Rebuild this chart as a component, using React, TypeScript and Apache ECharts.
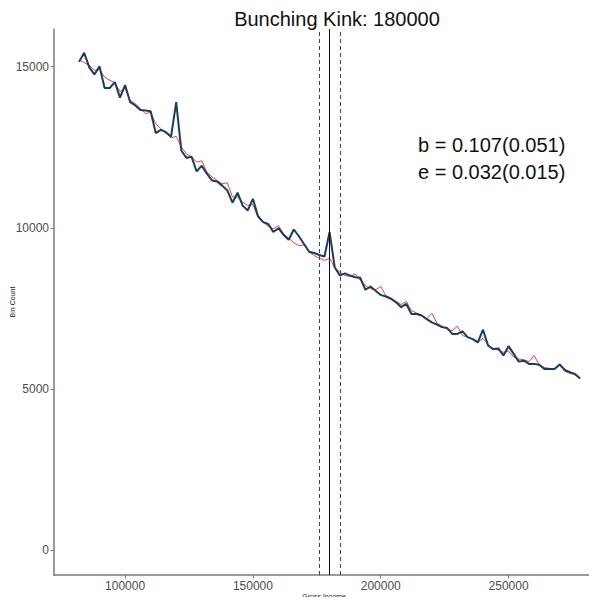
import React, { useEffect, useRef } from "react";
import * as echarts from "echarts";

const incomeBins = [
  82000, 84000, 86000, 88000, 90000, 92000, 94000, 96000, 98000, 100000,
  102000, 104000, 106000, 108000, 110000, 112000, 114000, 116000, 118000, 120000,
  122000, 124000, 126000, 128000, 130000, 132000, 134000, 136000, 138000, 140000,
  142000, 144000, 146000, 148000, 150000, 152000, 154000, 156000, 158000, 160000,
  162000, 164000, 166000, 168000, 170000, 172000, 174000, 176000, 178000, 180000,
  182000, 184000, 186000, 188000, 190000, 192000, 194000, 196000, 198000, 200000,
  202000, 204000, 206000, 208000, 210000, 212000, 214000, 216000, 218000, 220000,
  222000, 224000, 226000, 228000, 230000, 232000, 234000, 236000, 238000, 240000,
  242000, 244000, 246000, 248000, 250000, 252000, 254000, 256000, 258000, 260000,
  262000, 264000, 266000, 268000, 270000, 272000, 274000, 276000, 278000,
];

const observedCounts = [
  15150, 15430, 14980, 14760, 15010, 14340, 14340, 14520, 14040, 14430,
  13900, 13800, 13660, 13640, 13620, 12940, 13040, 12970, 12830, 13900,
  12400, 12170, 12210, 11750, 11930, 11680, 11470, 11440, 11310, 11160,
  10780, 11090, 10690, 10540, 10900, 10360, 10180, 10120, 9870, 9990,
  9780, 9630, 9950, 9740, 9500, 9260, 9220, 9160, 9110, 9870,
  8780, 8520, 8590, 8520, 8470, 8450, 8080, 8180, 8050, 7920,
  7870, 7800, 7690, 7540, 7640, 7330, 7330, 7280, 7170, 7070,
  7000, 6920, 6890, 6710, 6710, 6790, 6610, 6550, 6450, 6840,
  6350, 6240, 6260, 6040, 6330, 6090, 5850, 5880, 5780, 5780,
  5750, 5620, 5620, 5620, 5760, 5590, 5520, 5470, 5330,
];

const fittedCounts = [
  15220, 15130, 15040, 14890, 14910, 14680, 14580, 14500, 14230, 14330,
  13960, 13850, 13700, 13540, 13590, 13230, 13080, 12940, 12790, 12840,
  12510, 12300, 12200, 12040, 12080, 11730, 11580, 11470, 11370, 11400,
  10960, 10950, 10800, 10690, 10720, 10330, 10180, 10050, 9970, 10070,
  9820, 9680, 9540, 9450, 9470, 9250, 9140, 9060, 8990, 9060,
  8760, 8630, 8520, 8490, 8570, 8370, 8210, 8110, 8080, 8180,
  7900, 7820, 7720, 7620, 7720, 7430, 7360, 7300, 7180, 7350,
  7040, 6950, 6860, 6810, 6950, 6660, 6610, 6550, 6450, 6580,
  6370, 6240, 6210, 6140, 6180, 5990, 5930, 5910, 5850, 6040,
  5750, 5670, 5640, 5620, 5780, 5550, 5490, 5440, 5330,
];

const xTicks = [100000, 150000, 200000, 250000];
const yTicks = [0, 5000, 10000, 15000];
const kink = 180000;
const windowLines = [176000, 184000];
const titleText = "Bunching Kink: 180000";
const annotationLines = ["b = 0.107(0.051)", "e = 0.032(0.015)"];
const xAxisTitle = "Gross Income";
const yAxisTitle = "Bin Count";

export default function App() {
  const ref = useRef<HTMLDivElement>(null);

  useEffect(() => {
    if (!ref.current) return;
    const chart = echarts.init(ref.current, undefined, { renderer: "svg" });
    const font = "Liberation Sans, Arial, sans-serif";
    const axisColor = "#7a7a7a";
    const labelColor = "#4d4d4d";

    const option: any = {
      animation: false,
      backgroundColor: "#ffffff",
      grid: {
        left: 54,
        right: 0,
        top: 29,
        bottom: 30,
        containLabel: false,
        outerBoundsMode: "none",
      },
      xAxis: {
        type: "value",
        min: 72200,
        max: 284600,
        axisLine: { show: true, onZero: false, lineStyle: { color: axisColor, width: 1.5 } },
        axisTick: { show: true, length: 3.5, customValues: xTicks, lineStyle: { color: axisColor } },
        axisLabel: {
          customValues: xTicks,
          fontSize: 12,
          color: labelColor,
          fontFamily: font,
          margin: 5,
          formatter: (v: number) => (xTicks.includes(v) ? String(v) : ""),
        },
        splitLine: { show: false },
      },
      yAxis: {
        type: "value",
        min: -770,
        max: 16170,
        axisLine: { show: true, onZero: false, lineStyle: { color: axisColor, width: 1.5 } },
        axisTick: { show: true, length: 3.5, customValues: yTicks, lineStyle: { color: axisColor } },
        axisLabel: {
          customValues: yTicks,
          fontSize: 12,
          color: labelColor,
          fontFamily: font,
          margin: 5,
          formatter: (v: number) => (yTicks.includes(v) ? String(v) : ""),
        },
        splitLine: { show: false },
      },
      series: [
        {
          type: "line",
          name: "fitted",
          data: incomeBins.map((x, i) => [x, fittedCounts[i]]),
          symbol: "none",
          lineStyle: { color: "#e8413c", width: 1 },
          z: 2,
        },
        {
          type: "line",
          name: "observed",
          data: incomeBins.map((x, i) => [x, observedCounts[i]]),
          symbol: "none",
          lineStyle: { color: "#1b3d5c", width: 2 },
          z: 3,
          markLine: {
            silent: true,
            symbol: "none",
            label: { show: false },
            data: [
              { xAxis: windowLines[0], lineStyle: { color: "#444", width: 1, type: [4, 3] } },
              { xAxis: kink, lineStyle: { color: "#111", width: 1, type: "solid" } },
              { xAxis: windowLines[1], lineStyle: { color: "#444", width: 1, type: [4, 3] } },
            ],
          },
        },
      ],
      graphic: [
        {
          type: "text",
          x: 337,
          y: 19,
          style: {
            text: titleText,
            fontSize: 20,
            fontFamily: font,
            fill: "#111",
            textAlign: "center",
            textVerticalAlign: "middle",
          },
        },
        ...annotationLines.map((t, i) => ({
          type: "text",
          x: 418,
          y: 145 + i * 27,
          style: {
            text: t,
            fontSize: 20,
            fontFamily: font,
            fill: "#111",
            textAlign: "left",
            textVerticalAlign: "middle",
          },
        })),
        {
          type: "text",
          x: 324,
          y: 596,
          style: {
            text: xAxisTitle,
            fontSize: 7,
            fontFamily: font,
            fill: "#222",
            textAlign: "center",
            textVerticalAlign: "middle",
          },
        },
        {
          type: "text",
          x: 12,
          y: 302,
          rotation: Math.PI / 2,
          style: {
            text: yAxisTitle,
            fontSize: 7,
            fontFamily: font,
            fill: "#222",
            textAlign: "center",
            textVerticalAlign: "middle",
          },
        },
      ],
    };

    chart.setOption(option);
    return () => chart.dispose();
  }, []);

  return <div ref={ref} style={{ width: 597, height: 605, margin: -8 }} />;
}
